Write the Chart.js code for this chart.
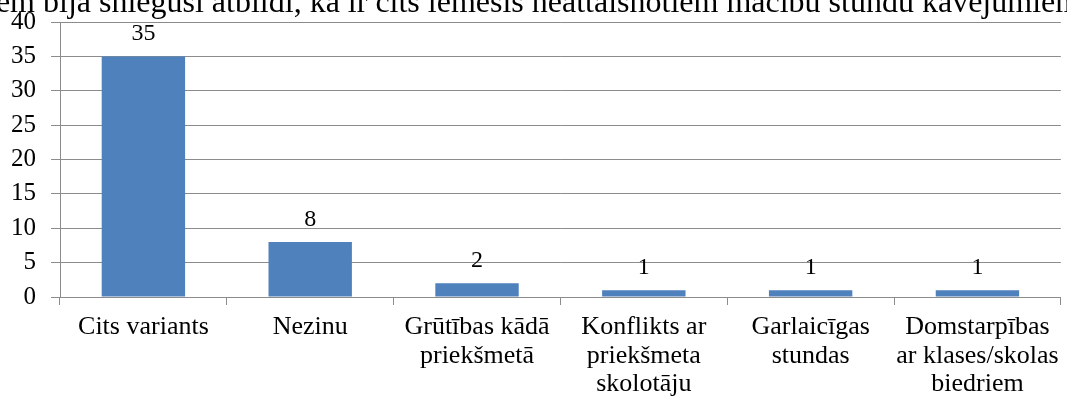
<!DOCTYPE html>
<html>
<head>
<meta charset="utf-8">
<script src="https://cdn.jsdelivr.net/npm/chart.js@4/dist/chart.umd.min.js"></script>
<style>
  html, body { margin: 0; padding: 0; background: #fff; overflow: hidden; }
  #wrap { width: 1067px; height: 401px; }
</style>
</head>
<body>
<div id="wrap"><canvas id="chart" width="1067" height="401"></canvas></div>
<script>
// dati
const titleText = "iem bija sniegusi atbildi, ka ir cits iemesls neattaisnotiem mācību stundu kavējumiem";
const categories = [
  ["Cits variants"],
  ["Nezinu"],
  ["Grūtības kādā", "priekšmetā"],
  ["Konflikts ar", "priekšmeta", "skolotāju"],
  ["Garlaicīgas", "stundas"],
  ["Domstarpības", "ar klases/skolas", "biedriem"],
];
const values = [35, 8, 2, 1, 1, 1];
const yTicks = [0, 5, 10, 15, 20, 25, 30, 35, 40];

const FONT = "'Liberation Serif', 'Times New Roman', serif";

// virsraksts (augšā nogriezts)
const titlePlugin = {
  id: "clippedTitle",
  afterDraw(chart) {
    const { ctx } = chart;
    ctx.save();
    ctx.fillStyle = "#000";
    ctx.font = "32px " + FONT;
    ctx.textAlign = "left";
    ctx.textBaseline = "alphabetic";
    ctx.fillText(titleText, -13, 12);
    ctx.restore();
  },
};

// vērtības virs stabiņiem
const valueLabels = {
  id: "valueLabels",
  afterDatasetsDraw(chart) {
    const { ctx } = chart;
    const meta = chart.getDatasetMeta(0);
    ctx.save();
    ctx.fillStyle = "#000";
    ctx.font = "24px " + FONT;
    ctx.textAlign = "center";
    ctx.textBaseline = "alphabetic";
    meta.data.forEach((bar, i) => {
      ctx.fillText(values[i], bar.x, bar.y - 16);
    });
    ctx.restore();
  },
};

new Chart(document.getElementById("chart").getContext("2d"), {
  type: "bar",
  data: {
    labels: categories,
    datasets: [
      {
        data: values,
        backgroundColor: "#4f81bd",
        borderWidth: 0,
        categoryPercentage: 1,
        barPercentage: 0.5,
      },
    ],
  },
  options: {
    responsive: false,
    animation: false,
    layout: { padding: { top: 0, right: 4, left: 0, bottom: 0 } },
    plugins: {
      legend: { display: false },
      tooltip: { enabled: false },
      title: { display: false },
    },
    scales: {
      y: {
        min: 0,
        max: 40,
        afterBuildTicks: (axis) => {
          axis.ticks = yTicks.map((v) => ({ value: v }));
        },
        afterFit: (axis) => {
          axis.width = 60;
          axis.paddingTop = 22;
        },
        ticks: {
          color: "#000",
          font: { family: FONT, size: 25, lineHeight: 0.9 },
          padding: 15,
        },
        grid: {
          color: "#8c8c8c",
          lineWidth: 1,
          drawTicks: true,
          tickLength: 9,
        },
        border: { color: "#8c8c8c" },
      },
      x: {
        afterFit: (axis) => {
          axis.height = 104;
        },
        ticks: {
          color: "#000",
          font: { family: FONT, size: 26, lineHeight: 1.1 },
          padding: 8,
          maxRotation: 0,
          autoSkip: false,
        },
        grid: {
          offset: true,
          drawOnChartArea: false,
          drawTicks: true,
          tickLength: 8,
          color: "#8c8c8c",
        },
        border: { color: "#8c8c8c" },
      },
    },
  },
  plugins: [titlePlugin, valueLabels],
});
</script>
</body>
</html>
